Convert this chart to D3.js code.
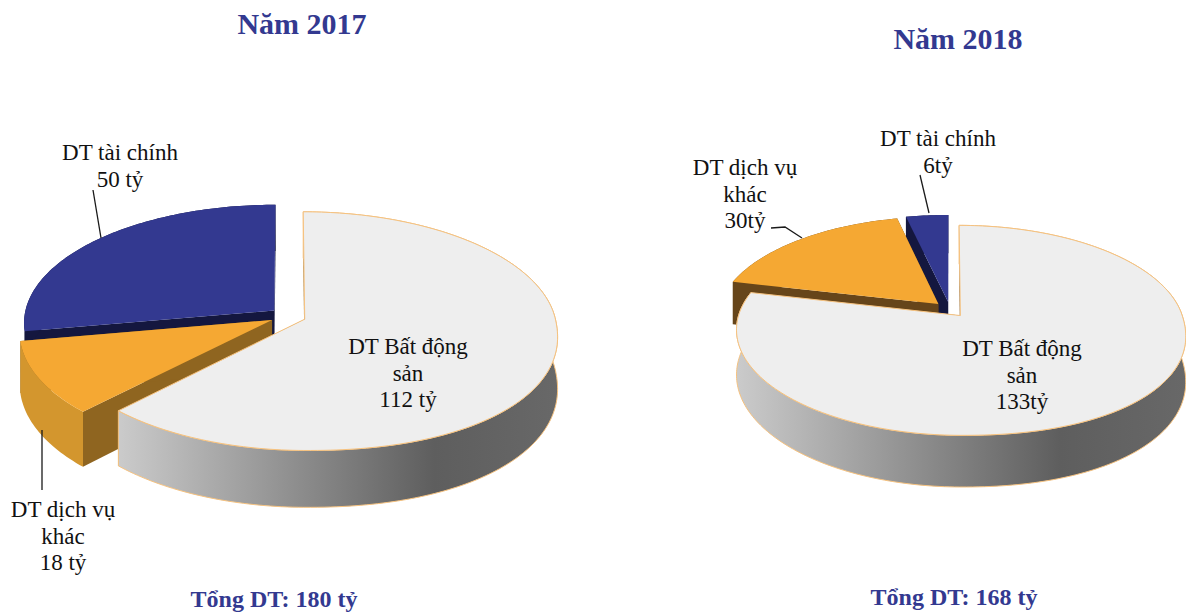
<!DOCTYPE html>
<html>
<head>
<meta charset="utf-8">
<script src="https://d3js.org/d3.v7.min.js"></script>
<style>
  body { margin: 0; background: #fff; }
  text { font-family: "Liberation Serif", serif; }
</style>
</head>
<body>
<div id="chart"></div>
<script>
// data
var categories = ["DT Bất động sản", "DT dịch vụ khác", "DT tài chính"];
var values2017 = [112, 18, 50];
var values2018 = [133, 30, 6];
var titles = ["Năm 2017", "Năm 2018"];
var totals = ["Tổng DT: 180 tỷ", "Tổng DT: 168 tỷ"];
var labels2017 = [["DT Bất động", "sản", "112 tỷ"], ["DT dịch vụ", "khác", "18 tỷ"], ["DT tài chính", "50 tỷ"]];
var labels2018 = [["DT Bất động", "sản", "133tỷ"], ["DT dịch vụ", "khác", "30tỷ"], ["DT tài chính", "6tỷ"]];

// layout, one entry per pie
var pies = [
  {
    id: "p17", values: values2017, labels: labels2017, title: titles[0], total: totals[0],
    cx: 288, cy: 316, r: 250, explode: 18, tilt: 0.47, persp: 0.1, depth: 51,
    radialWall: ["#8f6520", "#8f6520", "#14173f"], outerWall: ["#d3962e", "#14173f"],
    titlePos: [302, 34], totalPos: [274, 607],
    labelPos: [[408, 354], [63, 517], [120, 160]],
    leaders: [[[93, 190], [101, 238]], [[42, 430], [42, 490]]]
  },
  {
    id: "p18", values: values2018, labels: labels2018, title: titles[1], total: totals[1],
    cx: 950, cy: 309.5, r: 220, explode: 16.6, tilt: 0.46, persp: 0.14, depth: 44,
    radialWall: ["#66451a", "#66451a", "#14173f"], outerWall: ["#66451a", "#14173f"],
    titlePos: [958, 49], totalPos: [954, 605],
    labelPos: [[1022, 356], [745, 175], [938, 146]],
    leaders: [[[771, 228], [785, 227], [802, 238]], [[920, 175], [929, 213]]]
  }
];

var topColors = ["#eeeeee", "#f5a833", "#333990"];
var edgeColor = "#f6c27f";
var lineHeight = 26.5;
var frontRound = 0.92; // front right of the disc is a bit fuller than an ellipse

var svg = d3.select("#chart").append("svg")
  .attr("width", 1186)
  .attr("height", 613);

var defs = svg.append("defs");
var grad = defs.append("linearGradient").attr("id", "wallGrad");
grad.append("stop").attr("offset", "0").attr("stop-color", "#cbcbcb");
grad.append("stop").attr("offset", "0.72").attr("stop-color", "#5e5e5e");
grad.append("stop").attr("offset", "1").attr("stop-color", "#686868");

var line = d3.line();
var pieLayout = d3.pie().sort(null).value(function(d) { return d; });

pies.forEach(function(p) {
  var g = svg.append("g");

  // project a point on the disc to the screen, with a little perspective
  function project(a, rad, mid, drop) {
    var sinA = Math.sin(a);
    var cosA = Math.cos(a);
    if (cosA < 0 && sinA > 0) {
      sinA = Math.pow(sinA, frontRound);
      cosA = -Math.pow(-cosA, frontRound);
    }
    var X = rad * sinA + p.explode * Math.sin(mid);
    var Z = -rad * cosA - p.explode * Math.cos(mid);
    var w = 1 / (1 - p.persp * Z / p.r);
    return [p.cx + X * w, p.cy + p.tilt * Z * w + (drop ? p.depth * w : 0)];
  }

  function arcPoints(a0, a1, mid, drop) {
    var n = Math.max(2, Math.ceil((a1 - a0) / 0.02));
    return d3.range(n + 1).map(function(i) {
      return project(a0 + (a1 - a0) * i / n, p.r, mid, drop);
    });
  }

  function radialWall(a, mid) {
    return line([project(a, 0, mid, false), project(a, p.r, mid, false),
      project(a, p.r, mid, true), project(a, 0, mid, true)]) + "Z";
  }

  var slices = pieLayout(p.values);

  // back to front: tài chính, dịch vụ, bất động sản
  d3.range(slices.length - 1, -1, -1).forEach(function(i) {
    var s = slices[i];
    var mid = (s.startAngle + s.endAngle) / 2;
    var isBig = i === 0;
    var stroke = isBig ? edgeColor : "none";

    g.append("path").attr("d", radialWall(s.startAngle, mid)).attr("fill", p.radialWall[i]);
    g.append("path").attr("d", radialWall(s.endAngle, mid)).attr("fill", p.radialWall[i]);

    var top = arcPoints(s.startAngle, s.endAngle, mid, false);
    var bottom = arcPoints(s.startAngle, s.endAngle, mid, true).reverse();
    g.append("path")
      .attr("d", line(top.concat(bottom)) + "Z")
      .attr("fill", isBig ? "url(#wallGrad)" : p.outerWall[i - 1])
      .attr("stroke", stroke)
      .attr("stroke-width", 1);

    g.append("path")
      .attr("d", line([project(0, 0, mid, false)].concat(top)) + "Z")
      .attr("fill", topColors[i])
      .attr("stroke", stroke)
      .attr("stroke-width", 1);
  });

  // leader lines
  p.leaders.forEach(function(pts) {
    g.append("path")
      .attr("d", line(pts))
      .attr("fill", "none")
      .attr("stroke", "#1a1a1a")
      .attr("stroke-width", 1.3);
  });

  // slice labels
  p.labels.forEach(function(lines, i) {
    var t = g.append("text")
      .attr("text-anchor", "middle")
      .attr("font-size", 23)
      .attr("fill", "#111");
    lines.forEach(function(txt, j) {
      t.append("tspan")
        .attr("x", p.labelPos[i][0])
        .attr("y", p.labelPos[i][1] + j * lineHeight)
        .text(txt);
    });
  });

  g.append("text")
    .attr("x", p.titlePos[0])
    .attr("y", p.titlePos[1])
    .attr("text-anchor", "middle")
    .attr("font-size", 30)
    .attr("font-weight", "bold")
    .attr("fill", "#333990")
    .text(p.title);

  g.append("text")
    .attr("x", p.totalPos[0])
    .attr("y", p.totalPos[1])
    .attr("text-anchor", "middle")
    .attr("font-size", 24)
    .attr("font-weight", "bold")
    .attr("fill", "#333990")
    .text(p.total);
});
</script>
</body>
</html>
